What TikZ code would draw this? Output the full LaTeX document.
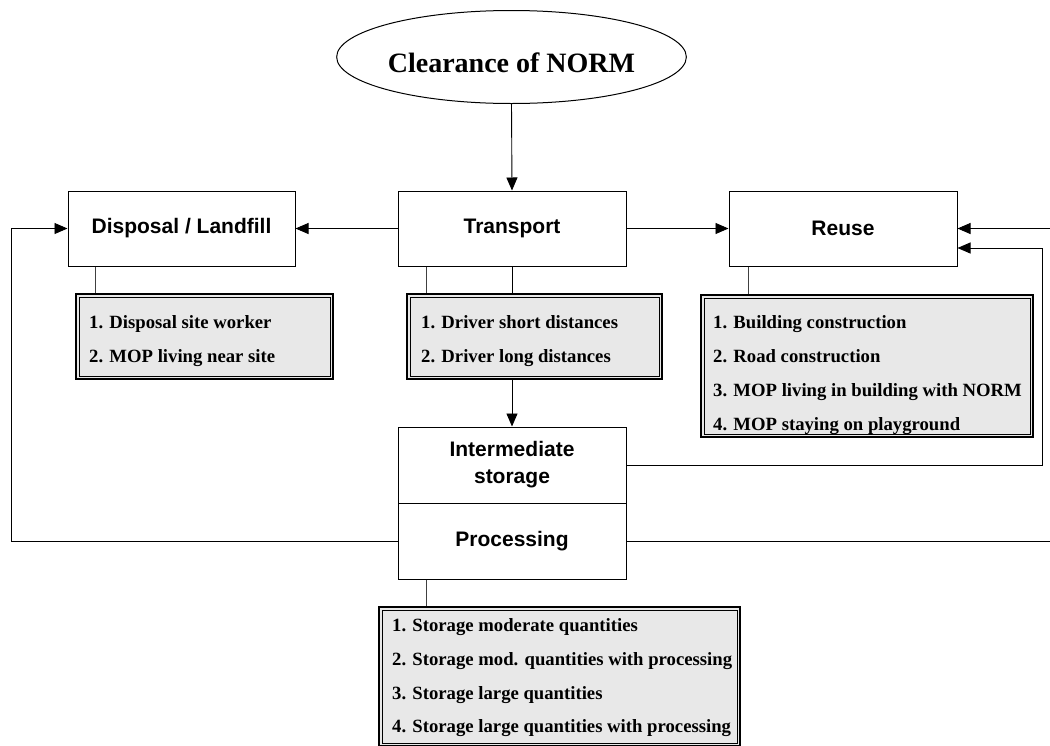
\documentclass[tikz,border=0pt]{standalone}
\usepackage{fontspec}
\setmainfont{Liberation Serif}
\newfontfamily\arialfont{Liberation Sans}
\usetikzlibrary{shapes.geometric,arrows.meta}
\begin{document}
\begin{tikzpicture}[x=1pt,y=-1pt,
  box/.style={draw, line width=1pt, minimum width=228pt, minimum height=75pt, inner sep=0pt,
    font=\arialfont\bfseries\fontsize{21}{27}\selectfont, align=center},
  listbox/.style={draw, line width=1.8pt, fill=black!9, inner sep=0pt},
  listinner/.style={draw, line width=0.7pt},
  item/.style={anchor=base west, inner sep=0pt, font=\bfseries\fontsize{18.7}{22}\selectfont},
  arr/.style={line width=0.9pt, -{Triangle[length=13pt,width=11pt]}},
  ln/.style={line width=0.9pt},
  stub/.style={line width=0.9pt, draw=black!75},
]
\useasboundingbox (0,0) rectangle (1050,745);

% main nodes
\node[draw, ellipse, line width=1pt, minimum width=323pt, minimum height=93pt, inner sep=0pt,
  font=\bfseries\fontsize{28}{32}\selectfont] (clr) at (511.5,57) {\raisebox{-15pt}[0pt][0pt]{Clearance of NORM}};
\node[box, minimum width=227pt] (disp) at (181.5,228.5) {Disposal / Landfill};
\node[box] (tr) at (512,228.5) {Transport};
\node[box] (reuse) at (843,228.5) {Reuse};
\node[box, minimum height=76pt] (inter) at (512,465) {Intermediate\\storage};
\node[box, minimum height=76pt] (proc) at (512,541) {Processing};

% helper coordinates
\coordinate (rin) at (1050,228.5);
\coordinate (rc) at (1042,248);
\coordinate (lc) at (11,228.5);
\coordinate (pout) at (1050,541);

% connectors
\draw[arr] (clr.south) -- (tr.north);
\draw[arr] (tr.west) -- (disp.east);
\draw[arr] (tr.east) -- (reuse.east -| reuse.west);
\draw[arr] (rin) -- (reuse.east);
\draw[arr] (inter.east) -| (rc) -- (rc -| reuse.east);
\draw[arr] (proc.west) -| (lc) -- (disp.west);
\draw[ln] (proc.east) -- (pout);
\draw[arr] (tr.south) -- (inter.north);

% list boxes
\node[listbox, minimum width=257pt, minimum height=85pt] (dl) at (204.5,336.5) {};
\node[listbox, minimum width=255pt, minimum height=85pt] (tl) at (534.5,336.5) {};
\node[listbox, minimum width=332pt, minimum height=142pt] (rl) at (867,366) {};
\node[listbox, minimum width=361pt, minimum height=139pt] (pl) at (559.5,676.5) {};
\foreach \b in {dl,tl,rl,pl}{
  \draw[listinner] ([shift={(3.8,3.8)}]\b.north west) rectangle ([shift={(-3.8,-3.8)}]\b.south east);
}

% stubs
\draw[stub] ([xshift=28pt]disp.south west) -- ([xshift=28pt]disp.south west |- dl.north);
\draw[stub] ([xshift=29pt]tr.south west) -- ([xshift=29pt]tr.south west |- tl.north);
\draw[stub] ([xshift=20pt]reuse.south west) -- ([xshift=20pt]reuse.south west |- rl.north);
\draw[stub] ([xshift=29pt]proc.south west) -- ([xshift=29pt]proc.south west |- pl.north);

% list items
\node[item] (d1) at (89,328) {1. Disposal site worker};
\node[item] (d2) at (89,362) {2. MOP living near site};
\node[item] (t1) at (421,328) {1. Driver short distances};
\node[item] (t2) at (421,362) {2. Driver long distances};
\node[item] (r1) at (713,328) {1. Building construction};
\node[item] (r2) at (713,362) {2. Road construction};
\node[item] (r3) at (713,396) {3. MOP living in building with NORM};
\node[item] (r4) at (713,430) {4. MOP staying on playground};
\node[item] (p1) at (392,631) {1. Storage moderate quantities};
\node[item] (p2) at (392,665) {2. Storage mod. quantities with processing};
\node[item] (p3) at (392,699) {3. Storage large quantities};
\node[item] (p4) at (392,732) {4. Storage large quantities with processing};
\end{tikzpicture}
\end{document}
